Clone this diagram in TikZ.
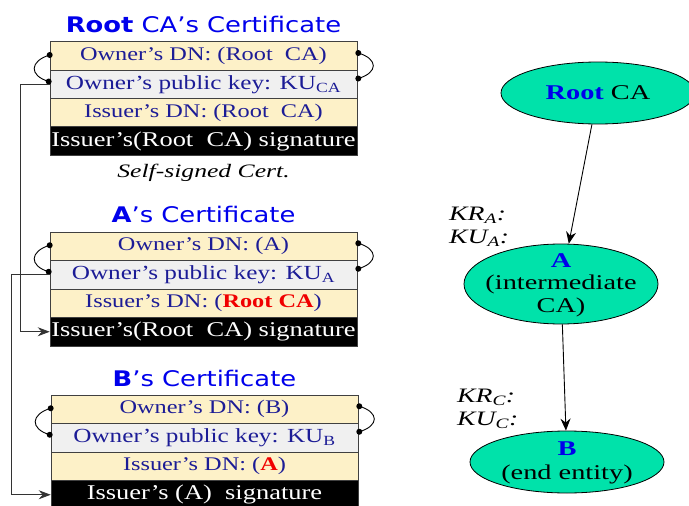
\documentclass[tikz,border=0pt]{standalone}
\usepackage{fontspec}
\setmainfont{Liberation Serif}
\newfontfamily\certfont[FakeStretch=1.26]{Liberation Serif}
\newfontfamily\wideserif[FakeStretch=1.35]{Liberation Serif}
\newfontfamily\headfont[FakeStretch=1.2]{DejaVu Sans}
\usetikzlibrary{shapes.geometric,arrows.meta,calc}

\definecolor{cream}{RGB}{253,241,200}
\definecolor{keygray}{RGB}{240,240,240}
\definecolor{navy}{RGB}{28,28,150}
\definecolor{headblue}{RGB}{0,0,235}
\definecolor{hotred}{RGB}{240,0,0}
\definecolor{catcol}{RGB}{0,226,170}

\tikzset{
  row/.style={draw=black!75, line width=0.6pt, minimum width=307pt,
    minimum height=28.5pt, inner sep=0pt, text=navy,
    font=\certfont\fontsize{19.3}{20}\selectfont},
  dnrow/.style={row, fill=cream},
  keyrow/.style={row, fill=keygray, font=\certfont\fontsize{20}{20}\selectfont},
  sigrow/.style={row, fill=black, text=white, font=\certfont\fontsize{21}{20}\selectfont},
  head/.style={text=headblue, font=\headfont\fontsize{21.5}{24}\selectfont},
  pin/.style={fill=black},
  loop/.style={draw, line width=0.9pt},
  link/.style={draw=black!80, line width=0.8pt, -{Stealth[length=12pt,width=9pt,inset=4pt]}},
  ca/.style={ellipse, draw=black, line width=0.8pt, fill=catcol, inner sep=0pt},
  calabel/.style={align=center, font=\wideserif\fontsize{21}{22.5}\selectfont},
  keylabel/.style={anchor=west, inner sep=0pt, font=\wideserif\itshape\fontsize{20.5}{22}\selectfont},
  tree/.style={draw, line width=0.9pt, -{Stealth[length=12pt,width=10pt,inset=4pt]}},
}

\begin{document}
\begin{tikzpicture}[x=1pt,y=-1pt]
\useasboundingbox (0,0) rectangle (689,506);

% ---- Root CA certificate ----
\node[head] (roottitle) at (203.5,24) {\textbf{Root} CA’s Certificate};
\node[dnrow]  (rr1) at (203.5,56)    {Owner’s DN: (Root\ \ CA)};
\node[keyrow] (rr2) at (203.5,84.5)  {Owner’s public key: KU\textsubscript{CA}};
\node[dnrow]  (rr3) at (203.5,112.5) {Issuer’s DN: (Root\ \ CA)};
\node[sigrow] (rr4) at (203.5,141)   {Issuer’s(Root\ \ CA) signature};
\node[font=\wideserif\itshape\fontsize{19}{20}\selectfont] (selfsigned) at (203.5,173) {Self-signed Cert.};

% ---- A's certificate ----
\node[head] (atitle) at (203.5,214) {\textbf{A}’s Certificate};
\node[dnrow]  (ar1) at (203.5,246.25) {Owner’s DN: (A)};
\node[keyrow] (ar2) at (203.5,274.75) {Owner’s public key: KU\textsubscript{A}};
\node[dnrow]  (ar3) at (203.5,303.25) {Issuer’s DN: ({\color{hotred}\bfseries Root CA})};
\node[sigrow] (ar4) at (203.5,331.75) {Issuer’s(Root\ \ CA) signature};

% ---- B's certificate ----
\node[head] (btitle) at (204.5,378) {\textbf{B}’s Certificate};
\node[dnrow]  (br1) at (204.5,409.25) {Owner’s DN: (B)};
\node[keyrow] (br2) at (204.5,437.75) {Owner’s public key: KU\textsubscript{B}};
\node[dnrow]  (br3) at (204.5,466.25) {Issuer’s DN: ({\color{hotred}\bfseries A})};
\node[sigrow] (br4) at (204.5,494.75) {Issuer’s (A)\ \ signature};

% ---- pins and loops binding owner DN to public key ----
\foreach \c in {r,a,b}{
  \coordinate (\c L1) at ($(\c r1.west)+(0,-1)$);
  \coordinate (\c L2) at ($(\c r2.west)+(-1,-3)$);
  \coordinate (\c R1) at ($(\c r1.east)+(1,-3)$);
  \coordinate (\c R2) at ($(\c r2.east)+(1,-6)$);
  \draw[loop] (\c L1) .. controls +(-20,6) and +(-20,-6) .. (\c L2);
  \draw[loop] (\c R1) .. controls +(20,6) and +(20,-6) .. (\c R2);
  \foreach \p in {L1,L2,R1,R2}{ \fill[pin] (\c\p) circle (3pt); }
}

% ---- public key verifies the next signature ----
\draw[link] (rr2.west) -- ++(-29,0) |- (ar4.west);
\draw[link] (ar2.west) -- ++(-38,0) |- (br4.west);

% ---- hierarchy ----
\node[ca, minimum width=194pt, minimum height=62pt] (rootca) at (598,93) {};
\node[calabel] (rootcatext) at (rootca) {{\color{headblue}\bfseries Root} CA};
\node[ca, minimum width=194pt, minimum height=80pt] (aca) at (561,284) {};
\node[calabel] (acatext) at (561,285) {{\color{headblue}\bfseries A}\\(intermediate\\CA)};
\node[ca, minimum width=194pt, minimum height=62pt] (bee) at (567,462) {};
\node[calabel, font=\wideserif\fontsize{21}{24}\selectfont] (beetext) at (567,463) {{\color{headblue}\bfseries B}\\(end entity)};

\draw[tree] (rootca) -- (aca);
\draw[tree] (aca) -- (bee);

\node[keylabel] (kra) at (449,215) {KR\textsubscript{A}:};
\node[keylabel] (kua) at (449,238) {KU\textsubscript{A}:};
\node[keylabel] (krc) at (457,397) {KR\textsubscript{C}:};
\node[keylabel] (kuc) at (457,420) {KU\textsubscript{C}:};
\end{tikzpicture}
\end{document}
